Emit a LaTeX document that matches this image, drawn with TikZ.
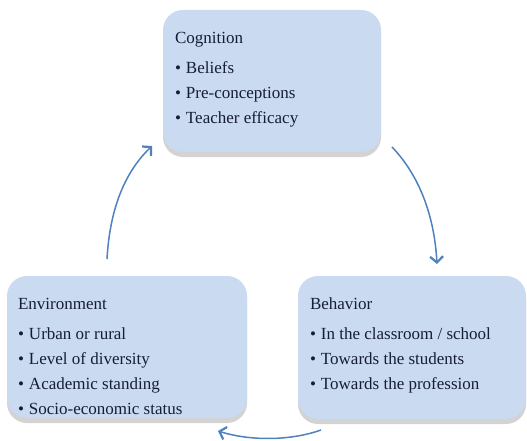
\documentclass[tikz,border=0pt]{standalone}
\usepackage{fontspec}
\setmainfont{Liberation Serif}
\usepackage{xcolor}
\usepackage{tikz}
\usetikzlibrary{calc}
\usetikzlibrary{positioning}
\usetikzlibrary{arrows.meta}
\usetikzlibrary{shadows}
\definecolor{boxfill}{RGB}{201,218,241}
\definecolor{boxtextcol}{RGB}{22,30,52}
\definecolor{arrowblue}{RGB}{79,129,189}
\tikzset{
	cyclebox/.style={rectangle, rounded corners=20pt, fill=boxfill, draw=none,
		drop shadow={shadow xshift=0pt, shadow yshift=-5pt, opacity=.35, fill=gray}},
	boxtext/.style={inner sep=0pt, align=left, text=boxtextcol, font=\fontsize{17}{25}\selectfont},
	cyclearrow/.style={draw=arrowblue, line width=1.5pt, -{Straight Barb[length=6pt, width=13pt, line width=2.2pt]}},
}
\newcommand{\bul}[1]{\makebox[11pt][l]{•}#1}
\begin{document}
\begin{tikzpicture}[x=1pt, y=-1pt]

	\useasboundingbox (0,0) rectangle (527,441);
	\clip (0,0) rectangle (527,441);

	\node[cyclebox, minimum width=218pt, minimum height=142pt] (cog) at (272,81) {};
	\node[cyclebox, minimum width=240pt, minimum height=142pt] (env) at (127,347) {};
	\node[cyclebox, minimum width=228pt, minimum height=143pt] (beh) at (412,347.5) {};

	\node[boxtext, anchor=north west] (cogtext) at ([shift={(12,22)}]cog.north west)
		{Cognition\\[5pt] \bul{Beliefs}\\ \bul{Pre-conceptions}\\ \bul{Teacher efficacy}};
	\node[boxtext, anchor=north west] (envtext) at ([shift={(11,22)}]env.north west)
		{Environment\\[5pt] \bul{Urban or rural}\\ \bul{Level of diversity}\\ \bul{Academic standing}\\ \bul{Socio-economic status}};
	\node[boxtext, anchor=north west] (behtext) at ([shift={(12,22)}]beh.north west)
		{Behavior\\[5pt] \bul{In the classroom / school}\\ \bul{Towards the students}\\ \bul{Towards the profession}};

	\coordinate (envout) at (107,259);
	\coordinate (cogin) at (152,146);
	\coordinate (cogout) at (392,147);
	\coordinate (behin) at (437,264);
	\coordinate (behout) at (321,430);
	\coordinate (envin) at (218,431);

	\draw[cyclearrow] (envout) .. controls (110,205) and (127,170) .. (cogin);
	\draw[cyclearrow] (cogout) .. controls (416,172) and (434,210) .. (behin);
	\draw[cyclearrow] (behout) .. controls (290,441) and (250,441) .. (envin);

\end{tikzpicture}
\end{document}
